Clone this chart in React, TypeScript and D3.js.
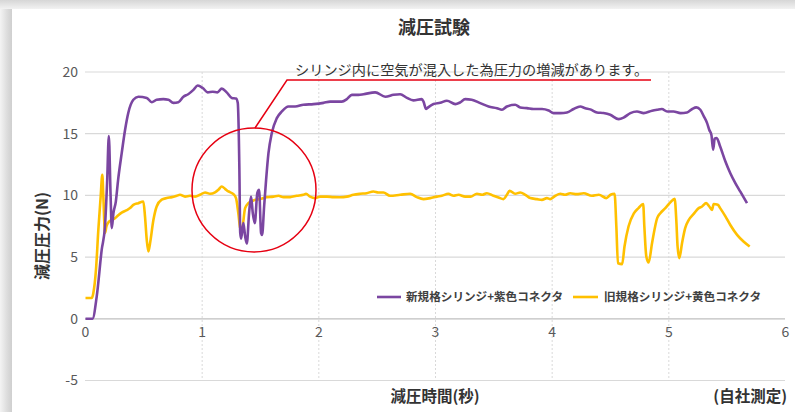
import React from "react";
import * as d3 from "d3";

const W = 795;
const H = 412;

const title = "減圧試験";
const annotation = "シリンジ内に空気が混入した為圧力の増減があります。";
const yTitle = "減圧圧力(N)";
const xTitle = "減圧時間(秒)";
const note = "(自社測定)";
const seriesNames = ["新規格シリンジ+紫色コネクタ", "旧規格シリンジ+黄色コネクタ"];
const seriesColors = ["#7b46a1", "#ffc000"];
const yTicks = [-5, 0, 5, 10, 15, 20];
const xTicks = [0, 1, 2, 3, 4, 5, 6];

// [time (s), pressure (N)]
const purple: [number, number][] = [
  [0, 0], [0.06, 0], [0.096, 1.8], [0.139, 5.6], [0.167, 7.5], [0.185, 11], [0.2, 14.8],
  [0.215, 10], [0.225, 7.35], [0.24, 8.6], [0.26, 9.5], [0.28, 11.3], [0.31, 13.4],
  [0.339, 15.3], [0.367, 16.7], [0.41, 17.75], [0.453, 18.0], [0.525, 17.9], [0.568, 17.55],
  [0.61, 17.75], [0.667, 17.8], [0.71, 17.75], [0.753, 17.5], [0.796, 17.55], [0.839, 18.0],
  [0.88, 18.2], [0.925, 18.55], [0.962, 18.9], [1.005, 18.7], [1.048, 18.35], [1.09, 18.4],
  [1.13, 18.35], [1.168, 18.65], [1.21, 18.35], [1.254, 17.9], [1.29, 17.85], [1.305, 17.5],
  [1.319, 12.1], [1.326, 7.0], [1.334, 6.5], [1.353, 7.75], [1.368, 6.7], [1.383, 6.1],
  [1.402, 8.55], [1.419, 9.9], [1.434, 8.55], [1.451, 7.75], [1.473, 10.2], [1.488, 10.45],
  [1.505, 6.95], [1.514, 6.8], [1.531, 9.1], [1.548, 11.26], [1.568, 13.4], [1.597, 15.05],
  [1.64, 16.26], [1.683, 16.8], [1.739, 17.2], [1.797, 17.2], [1.868, 17.35], [1.954, 17.4],
  [2.04, 17.5], [2.097, 17.6], [2.197, 17.6], [2.24, 17.8], [2.283, 18.15], [2.34, 18.15],
  [2.383, 18.2], [2.483, 18.35], [2.57, 18.0], [2.64, 18.15], [2.697, 18.2], [2.755, 17.9],
  [2.81, 17.7], [2.883, 17.8], [2.897, 17.6], [2.92, 17.0], [2.94, 17.15], [2.983, 17.4],
  [3.04, 17.5], [3.098, 17.67], [3.17, 17.4], [3.21, 17.53], [3.255, 17.8], [3.31, 17.75],
  [3.383, 17.48], [3.455, 17.2], [3.527, 17.07], [3.57, 16.94], [3.612, 17.2], [3.683, 17.34],
  [3.726, 17.13], [3.784, 17.07], [3.84, 17.0], [3.913, 17.0], [3.97, 16.88], [4.012, 16.67],
  [4.07, 16.67], [4.127, 16.72], [4.184, 17.0], [4.24, 17.2], [4.284, 17.07], [4.327, 16.97],
  [4.384, 16.72], [4.44, 16.67], [4.498, 16.53], [4.57, 16.18], [4.612, 16.3], [4.67, 16.67],
  [4.727, 16.8], [4.784, 16.67], [4.856, 16.86], [4.9, 16.94], [4.94, 17.0], [4.985, 16.8],
  [5.04, 16.8], [5.1, 16.67], [5.156, 16.72], [5.2, 17.0], [5.236, 17.13], [5.27, 16.94],
  [5.3, 16.4], [5.328, 15.86], [5.347, 15.3], [5.365, 14.9], [5.38, 13.7], [5.393, 14.6],
  [5.41, 14.65], [5.44, 13.96], [5.485, 12.75], [5.527, 11.8], [5.57, 11.0], [5.613, 10.3],
  [5.67, 9.37],
];

const yellow: [number, number][] = [
  [0, 1.68], [0.053, 1.68], [0.067, 2.08], [0.09, 4.0], [0.11, 7.2], [0.13, 9.9], [0.144, 11.67],
  [0.153, 9.9], [0.167, 6.95], [0.18, 7.5], [0.204, 7.9], [0.225, 8.0], [0.253, 8.15],
  [0.281, 8.4], [0.31, 8.6], [0.353, 8.8], [0.382, 8.97], [0.41, 9.23], [0.453, 9.37],
  [0.496, 9.5], [0.51, 8.3], [0.525, 6.4], [0.539, 5.45], [0.553, 6.1], [0.582, 8.0],
  [0.61, 9.1], [0.653, 9.65], [0.696, 9.78], [0.74, 9.86], [0.782, 9.97], [0.81, 10.05],
  [0.853, 9.9], [0.896, 9.97], [0.94, 9.9], [0.982, 10.05], [1.025, 10.24], [1.068, 10.13],
  [1.11, 10.24], [1.139, 10.45], [1.168, 10.72], [1.196, 10.53], [1.225, 10.32], [1.268, 10.1],
  [1.29, 9.78], [1.31, 8.55], [1.325, 7.4], [1.34, 7.2], [1.368, 8.97], [1.396, 9.37],
  [1.439, 9.59], [1.497, 9.7], [1.554, 9.86], [1.61, 9.9], [1.654, 9.97], [1.697, 9.86],
  [1.754, 9.86], [1.81, 9.97], [1.868, 10.05], [1.89, 10.13], [1.925, 9.9], [1.968, 9.78],
  [2.01, 9.9], [2.07, 9.9], [2.125, 9.86], [2.18, 9.85], [2.24, 9.9], [2.297, 10.05],
  [2.354, 10.13], [2.41, 10.18], [2.468, 10.32], [2.51, 10.24], [2.554, 10.24], [2.61, 9.97],
  [2.697, 10.05], [2.783, 10.13], [2.84, 9.86], [2.897, 9.7], [2.955, 9.78], [3.012, 9.9],
  [3.055, 9.97], [3.11, 10.13], [3.155, 9.97], [3.197, 10.05], [3.255, 9.9], [3.3, 9.9],
  [3.355, 10.13], [3.4, 10.05], [3.44, 10.18], [3.497, 9.97], [3.54, 9.83], [3.583, 9.7],
  [3.612, 10.05], [3.635, 10.37], [3.683, 10.13], [3.726, 10.24], [3.77, 10.05], [3.812, 9.78],
  [3.87, 9.7], [3.912, 9.64], [3.955, 9.78], [3.984, 9.7], [4.027, 9.97], [4.07, 10.13],
  [4.11, 10.05], [4.155, 10.18], [4.21, 10.1], [4.27, 10.18], [4.34, 9.97], [4.4, 10.05],
  [4.464, 9.78], [4.5, 10.05], [4.535, 10.13], [4.55, 7.5], [4.564, 4.5], [4.6, 4.43],
  [4.62, 5.86], [4.655, 7.5], [4.7, 8.55], [4.74, 8.97], [4.78, 9.3], [4.79, 7.5],
  [4.807, 5.05], [4.827, 4.56], [4.856, 6.13], [4.9, 8.16], [4.927, 8.56], [4.97, 8.97],
  [5.013, 9.43], [5.05, 9.72], [5.064, 8.0], [5.075, 5.86], [5.09, 4.92], [5.113, 6.13],
  [5.14, 7.35], [5.17, 8.0], [5.213, 8.5], [5.256, 8.97], [5.285, 9.1], [5.32, 9.37],
  [5.347, 9.1], [5.37, 8.83], [5.384, 9.3], [5.42, 9.24], [5.44, 8.97], [5.485, 8.3],
  [5.527, 7.6], [5.585, 6.8], [5.64, 6.26], [5.693, 5.86],
];

const FONT = "'Noto Sans CJK JP', 'Noto Sans', sans-serif";

export default function App() {
  const x = d3.scaleLinear().domain([0, 6]).range([85.5, 785.5]);
  const y = d3.scaleLinear().domain([-5, 20]).range([380.5, 72]);
  const line = d3
    .line<[number, number]>()
    .x((d) => x(d[0]))
    .y((d) => y(d[1]))
    .curve(d3.curveMonotoneX);

  return (
    <div style={{ position: "fixed", left: 0, top: 0, width: W, height: H }}>
      <svg width={W} height={H} style={{ display: "block", fontFamily: FONT }}>
        <defs>
          <linearGradient id="topg" x1="0" y1="0" x2="0" y2="1">
            <stop offset="0" stopColor="#d6d6d6" />
            <stop offset="1" stopColor="#f2f2f2" />
          </linearGradient>
          <linearGradient id="leftg" x1="0" y1="0" x2="1" y2="0">
            <stop offset="0" stopColor="#f4f4f4" />
            <stop offset="0.6" stopColor="#dcdcdc" />
            <stop offset="1" stopColor="#cfcfcf" />
          </linearGradient>
        </defs>
        <rect x={0} y={0} width={W} height={H} fill="#f3f3f3" />
        <rect x={0} y={0} width={W} height={9} fill="url(#topg)" />
        <rect x={0} y={9} width={12} height={H - 9} fill="url(#leftg)" />
        <rect x={12} y={9} width={W - 12} height={H - 9} fill="#ffffff" />

        {/* horizontal gridlines */}
        {yTicks.map((t) => (
          <line
            key={"h" + t}
            x1={85}
            x2={785}
            y1={y(t)}
            y2={y(t)}
            stroke={t === 0 ? "#bfbfbf" : "#d9d9d9"}
            strokeWidth={1.2}
          />
        ))}
        {/* vertical dotted gridlines */}
        {xTicks
          .filter((t) => t > 0 && t < 6)
          .map((t) => (
            <line
              key={"v" + t}
              x1={x(t)}
              x2={x(t)}
              y1={y(20)}
              y2={y(-5)}
              stroke="#d9d9d9"
              strokeWidth={1}
              strokeDasharray="2,2"
            />
          ))}

        {/* y tick labels */}
        {yTicks.map((t) => (
          <text
            key={"yl" + t}
            x={78}
            y={y(t)}
            dy="0.35em"
            textAnchor="end"
            fontSize={14}
            fill="#595959"
          >
            {t}
          </text>
        ))}
        {/* x tick labels */}
        {xTicks.map((t) => (
          <text
            key={"xl" + t}
            x={x(t)}
            y={332}
            dy="0.35em"
            textAnchor="middle"
            fontSize={14}
            fill="#595959"
          >
            {t}
          </text>
        ))}

        {/* series */}
        <path d={line(yellow) || ""} fill="none" stroke={seriesColors[1]} strokeWidth={2.6} strokeLinejoin="round" />
        <path d={line(purple) || ""} fill="none" stroke={seriesColors[0]} strokeWidth={2.6} strokeLinejoin="round" />

        {/* annotation */}
        <circle cx={254} cy={190} r={62} fill="none" stroke="#e60012" strokeWidth={1.5} />
        <polyline points="651,80 287,80 255,128" fill="none" stroke="#e60012" strokeWidth={1.5} />
        <text x={295} y={70} dy="0.35em" fontSize={14.2} fill="#333333">
          {annotation}
        </text>

        {/* title */}
        <text x={434} y={28} dy="0.35em" textAnchor="middle" fontSize={18} fontWeight="bold" fill="#333333">
          {title}
        </text>

        {/* legend */}
        <line x1={377} x2={401} y1={297} y2={297} stroke={seriesColors[0]} strokeWidth={2.6} />
        <text x={406} y={297} dy="0.35em" fontSize={11.6} fontWeight="bold" fill="#404040">
          {seriesNames[0]}
        </text>
        <line x1={573} x2={598} y1={297} y2={297} stroke={seriesColors[1]} strokeWidth={2.6} />
        <text x={604} y={297} dy="0.35em" fontSize={11.6} fontWeight="bold" fill="#404040">
          {seriesNames[1]}
        </text>

        {/* axis titles */}
        <text
          transform="translate(42,236) rotate(-90)"
          textAnchor="middle"
          dy="0.35em"
          fontSize={16}
          fontWeight="bold"
          fill="#333333"
        >
          {yTitle}
        </text>
        <text x={435} y={397} dy="0.35em" textAnchor="middle" fontSize={15.5} fontWeight="bold" fill="#333333">
          {xTitle}
        </text>
        <text x={787} y={397} dy="0.35em" textAnchor="end" fontSize={15.5} fontWeight="bold" fill="#333333">
          {note}
        </text>
      </svg>
    </div>
  );
}
